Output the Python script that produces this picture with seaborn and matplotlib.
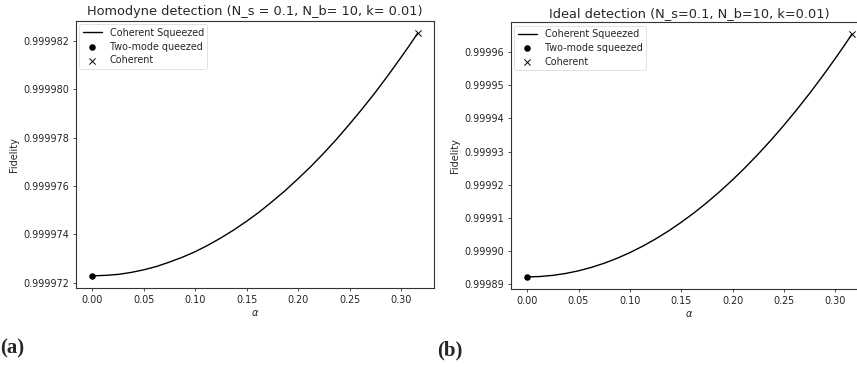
import numpy as np
import pandas as pd
import matplotlib
matplotlib.use("Agg")
import matplotlib.pyplot as plt
from matplotlib.ticker import FixedLocator, FormatStrFormatter
import seaborn as sns

# coherent amplitude alpha (0 ... sqrt(N_s))
alpha = [0.0, 0.0125, 0.025, 0.0375, 0.05, 0.0625, 0.075, 0.0875, 0.1,
         0.1125, 0.125, 0.1375, 0.15, 0.1625, 0.175, 0.1875, 0.2, 0.2125,
         0.225, 0.2375, 0.25, 0.2625, 0.275, 0.2875, 0.3, 0.3081, 0.3162]

# fidelity of the coherent-squeezed probe, homodyne detection
fid_homodyne = [0.99997228, 0.99997230, 0.99997234, 0.99997242, 0.99997253,
                0.99997267, 0.99997285, 0.99997305, 0.99997328, 0.99997355,
                0.99997385, 0.99997418, 0.99997454, 0.99997493, 0.99997536,
                0.99997581, 0.99997630, 0.99997681, 0.99997736, 0.99997794,
                0.99997856, 0.99997920, 0.99997987, 0.99998058, 0.99998132,
                0.99998181, 0.99998232]

# fidelity of the coherent-squeezed probe, ideal detection
fid_ideal = [0.99989220, 0.99989231, 0.99989266, 0.99989323, 0.99989403,
             0.99989506, 0.99989631, 0.99989780, 0.99989951, 0.99990145,
             0.99990362, 0.99990602, 0.99990865, 0.99991150, 0.99991459,
             0.99991790, 0.99992144, 0.99992521, 0.99992921, 0.99993343,
             0.99993789, 0.99994257, 0.99994748, 0.99995262, 0.99995799,
             0.99996159, 0.99996530]

# end-point states: two-mode squeezed (alpha = 0) and coherent (alpha = sqrt(N_s))
tms_alpha, coh_alpha = 0.0, 0.3162
tms_homodyne, coh_homodyne = 0.99997228, 0.99998232
tms_ideal, coh_ideal = 0.99989220, 0.99996530

x_ticks = [0.00, 0.05, 0.10, 0.15, 0.20, 0.25, 0.30]
y_ticks_homodyne = [0.999972, 0.999974, 0.999976, 0.999978, 0.999980, 0.999982]
y_ticks_ideal = [0.99989, 0.99990, 0.99991, 0.99992, 0.99993, 0.99994,
                 0.99995, 0.99996]

sns.set_style("ticks")
plt.rcParams["font.family"] = ["DejaVu Sans"]
plt.rcParams["font.size"] = 6.9
plt.rcParams["axes.labelsize"] = 7.0
plt.rcParams["xtick.labelsize"] = 6.9
plt.rcParams["ytick.labelsize"] = 6.9
plt.rcParams["legend.fontsize"] = 6.9
plt.rcParams["axes.titlesize"] = 9.3
plt.rcParams["axes.edgecolor"] = "#333333"
plt.rcParams["axes.linewidth"] = 0.8
plt.rcParams["xtick.major.size"] = 2.5
plt.rcParams["ytick.major.size"] = 2.5
plt.rcParams["xtick.major.width"] = 0.6
plt.rcParams["ytick.major.width"] = 0.6
plt.rcParams["xtick.color"] = "#333333"
plt.rcParams["ytick.color"] = "#333333"
plt.rcParams["xtick.labelcolor"] = "#222222"
plt.rcParams["ytick.labelcolor"] = "#222222"

W, H = 857, 367
fig = plt.figure(figsize=(W / 100, H / 100), dpi=100)
ax_a = fig.add_axes([76 / W, (H - 288) / H, (434 - 76) / W, (288 - 21) / H])
ax_b = fig.add_axes([511 / W, (H - 289) / H, (868 - 511) / W, (289 - 22.3) / H])


def draw(ax, fid, tms, coh, title, tms_label, yticks, fmt):
    df = pd.DataFrame({"alpha": alpha, "fidelity": fid})
    sns.lineplot(data=df, x="alpha", y="fidelity", color="black", linewidth=1.0,
                 label="Coherent Squeezed", ax=ax)
    sns.scatterplot(x=[tms_alpha], y=[tms], color="black", marker="o", s=22,
                    linewidth=0, label=tms_label, ax=ax)
    sns.scatterplot(x=[coh_alpha], y=[coh], color="black", marker="x", s=20,
                    linewidth=0.7, label="Coherent", ax=ax)
    ax.set_title(title, pad=4)
    ax.set_xlabel(r"$\alpha$", labelpad=2)
    ax.set_ylabel("Fidelity", labelpad=3)
    ax.xaxis.set_major_locator(FixedLocator(x_ticks))
    ax.xaxis.set_major_formatter(FormatStrFormatter("%.2f"))
    ax.yaxis.set_major_locator(FixedLocator(yticks))
    ax.yaxis.set_major_formatter(FormatStrFormatter(fmt))
    ax.tick_params(pad=2.5)
    leg = ax.legend(loc="upper left", frameon=True, borderpad=0.35,
                    handlelength=2.0, labelspacing=0.4, handletextpad=0.8,
                    borderaxespad=0.35)
    leg.get_frame().set_linewidth(0.5)
    leg.get_frame().set_edgecolor("#cccccc")


draw(ax_a, fid_homodyne, tms_homodyne, coh_homodyne,
     "Homodyne detection (N_s = 0.1, N_b= 10, k= 0.01)",
     "Two-mode queezed", y_ticks_homodyne, "%.6f")
draw(ax_b, fid_ideal, tms_ideal, coh_ideal,
     "Ideal detection (N_s=0.1, N_b=10, k=0.01)",
     "Two-mode squeezed", y_ticks_ideal, "%.5f")

fig.text(0.0, 1 - 348 / H, "(a)", fontfamily="Liberation Serif",
         fontweight="bold", fontsize=15, ha="left", va="center")
fig.text(437 / W, 1 - 350 / H, "(b)", fontfamily="Liberation Serif",
         fontweight="bold", fontsize=15, ha="left", va="center")

fig.savefig("out.png", dpi=100)
